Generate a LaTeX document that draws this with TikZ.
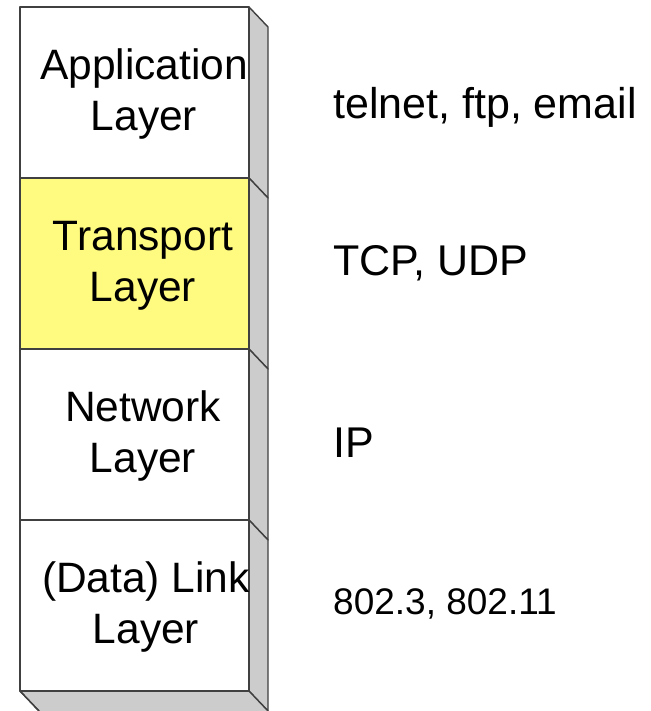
\documentclass[tikz,border=0pt]{standalone}
\usepackage{fontspec}
\setmainfont{Liberation Sans}
\definecolor{sidegray}{RGB}{204,204,204}
\definecolor{edgecol}{RGB}{64,64,64}
\definecolor{ylw}{RGB}{255,250,128}
\begin{document}
\begin{tikzpicture}[x=1pt,y=-1pt,
  face/.style={draw=edgecol,line width=1.4pt,line join=round},
  lbl/.style={font=\fontsize{42.5}{51}\selectfont,align=center,inner sep=0pt},
  proto/.style={font=\fontsize{43}{50}\selectfont,anchor=base west,inner sep=0pt}]
\useasboundingbox (0,0) rectangle (650,711);
\clip (0,0) rectangle (650,711);
% side faces
\foreach \t in {7,178,349,520} {
  \draw[face,fill=sidegray] (249,\t) -- (268,\t+20) -- (268,\t+191) -- (249,\t+171) -- cycle;
}
% bottom face
\draw[face,fill=sidegray] (20,691) -- (249,691) -- (268,711) -- (268,730) -- (39,730) -- (39,711) -- cycle;
\draw[face] (20,691) -- (39,711);
% front faces
\draw[face,fill=white] (20,7) rectangle (249,178);
\draw[face,fill=ylw] (20,178) rectangle (249,349);
\draw[face,fill=white] (20,349) rectangle (249,520);
\draw[face,fill=white] (20,520) rectangle (249,691);
% layer labels
\node[lbl] (app) at (144,94.5) {Application\\Layer};
\node[lbl] (trn) at (143,265.5) {Transport\\Layer};
\node[lbl] (net) at (143,436.5) {Network\\Layer};
\node[lbl] (lnk) at (146,607.5) {(Data) Link\\Layer};
% protocol labels
\node[proto] (papp) at (333,118.5) {telnet, ftp, email};
\node[proto] (ptrn) at (333,275) {TCP, UDP};
\node[proto] (pnet) at (333,457.5) {IP};
\node[proto,font=\fontsize{37}{44}\selectfont] (plnk) at (333,614) {802.3, 802.11};
\end{tikzpicture}
\end{document}
